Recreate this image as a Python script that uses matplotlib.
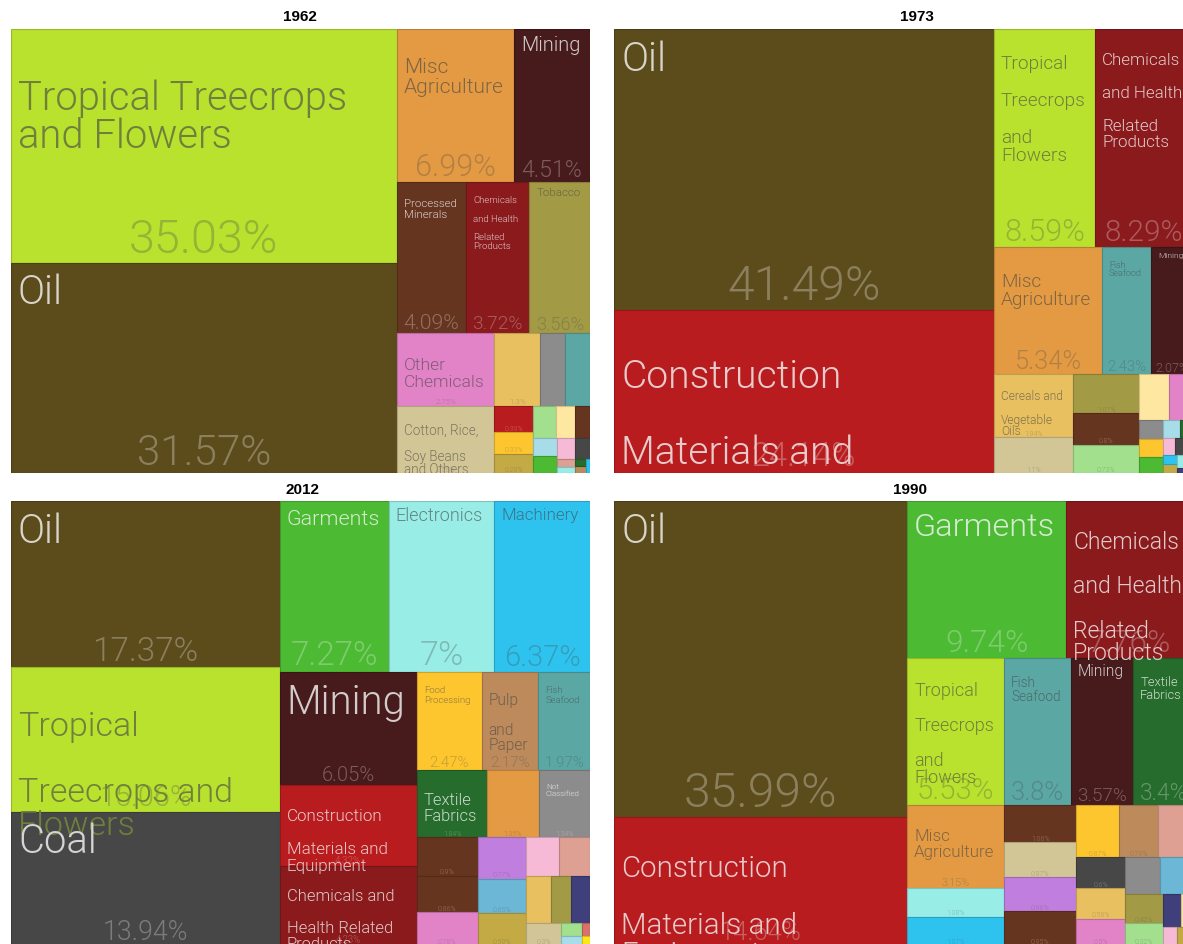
import matplotlib
matplotlib.use("Agg")
import matplotlib.pyplot as plt
import matplotlib.colors as mcolors
from matplotlib.patches import Rectangle
from matplotlib.font_manager import FontProperties, fontManager

# a light sans if one is installed, else Liberation Sans (Helvetica metrics)
FONT, WEIGHT = "Liberation Sans", "normal"
for fam in ["Roboto", "Lato", "Open Sans", "Inter"]:
    if any(f.name == fam and f.weight == 300 for f in fontManager.ttflist):
        FONT, WEIGHT = fam, 300
        break

# colours of the product communities
colors = {
    "Tropical Treecrops and Flowers": "#b8e22e",
    "Oil": "#5c4b1b",
    "Misc Agriculture": "#e39a43",
    "Mining": "#471a1c",
    "Processed Minerals": "#663520",
    "Petrochemicals": "#663520",
    "Chemicals and Health Related Products": "#8b1a1d",
    "Tobacco": "#a39a45",
    "Other Chemicals": "#e383c7",
    "Cotton, Rice, Soy Beans and Others": "#d3c696",
    "Cereals and Vegetable Oils": "#e8c060",
    "Not Classified": "#8c8c8c",
    "Fish Seafood": "#5ba7a4",
    "Construction Materials and Equipment": "#b81c1e",
    "Food Processing": "#fec62e",
    "Animal Fibers": "#c4aa45",
    "Animal Agriculture": "#a2e08e",
    "Milk and Cheese": "#fee8a1",
    "Home and Office": "#a7dce9",
    "Garments": "#4cba33",
    "Leather": "#f6bad6",
    "Meat and Eggs": "#dda093",
    "Coal": "#474747",
    "Electronics": "#98ede6",
    "Textile Fabrics": "#266c2c",
    "Ships": "#3e3f7b",
    "Pulp and Paper": "#bd8a5c",
    "Machinery": "#2ec3ef",
    "Boilers": "#c07fdf",
    "Aircraft": "#6cb6d6",
    "Inorganic Salts and Acids": "#d9726b",
    "Agrochemicals": "#fce81a",
}

names_1962 = ["Tropical Treecrops and Flowers", "Oil", "Misc Agriculture", "Mining",
              "Processed Minerals", "Chemicals and Health Related Products", "Tobacco",
              "Other Chemicals", "Cotton, Rice, Soy Beans and Others", "Cereals and Vegetable Oils",
              "Not Classified", "Fish Seafood", "Construction Materials and Equipment",
              "Food Processing", "Animal Fibers", "Animal Agriculture", "Milk and Cheese",
              "Petrochemicals", "Home and Office", "Garments", "Leather", "Coal", "Meat and Eggs",
              "Electronics", "Pulp and Paper", "Textile Fabrics", "Machinery"]
values_1962 = [35.03, 31.57, 6.99, 4.51, 4.09, 3.72, 3.56, 2.75, 2.56, 1.3,
               0.71, 0.7, 0.39, 0.33, 0.29, 0.28, 0.24, 0.18, 0.17, 0.16,
               0.15, 0.12, 0.06, 0.04, 0.03, 0.03, 0.02]

names_1973 = ["Oil", "Construction Materials and Equipment", "Tropical Treecrops and Flowers",
              "Chemicals and Health Related Products", "Misc Agriculture", "Fish Seafood", "Mining",
              "Cereals and Vegetable Oils", "Cotton, Rice, Soy Beans and Others", "Tobacco",
              "Processed Minerals", "Animal Agriculture", "Milk and Cheese", "Other Chemicals",
              "Not Classified", "Food Processing", "Garments", "Home and Office", "Textile Fabrics",
              "Leather", "Meat and Eggs", "Coal", "Animal Fibers", "Machinery", "Petrochemicals",
              "Electronics", "Ships"]
values_1973 = [41.49, 24.14, 8.59, 8.29, 5.34, 2.43, 2.07, 1.94, 1.1, 1.01,
               0.8, 0.73, 0.54, 0.43, 0.17, 0.16, 0.15, 0.12, 0.09, 0.08,
               0.06, 0.06, 0.05, 0.05, 0.04, 0.04, 0.03]

names_2012 = ["Oil", "Tropical Treecrops and Flowers", "Coal", "Garments", "Electronics", "Machinery",
              "Mining", "Construction Materials and Equipment", "Chemicals and Health Related Products",
              "Food Processing", "Pulp and Paper", "Fish Seafood", "Textile Fabrics", "Misc Agriculture",
              "Not Classified", "Processed Minerals", "Petrochemicals", "Other Chemicals", "Boilers",
              "Aircraft", "Animal Fibers", "Leather", "Meat and Eggs", "Cereals and Vegetable Oils",
              "Tobacco", "Ships", "Cotton, Rice, Soy Beans and Others", "Animal Agriculture",
              "Home and Office", "Inorganic Salts and Acids", "Agrochemicals"]
values_2012 = [17.37, 15.06, 13.94, 7.27, 7.0, 6.37, 6.05, 4.32, 4.23, 2.47,
               2.17, 1.97, 1.84, 1.35, 1.34, 0.9, 0.86, 0.78, 0.77, 0.65,
               0.59, 0.5, 0.47, 0.46, 0.37, 0.35, 0.3, 0.1, 0.07, 0.04, 0.03]

names_1990 = ["Oil", "Construction Materials and Equipment", "Garments",
              "Chemicals and Health Related Products", "Tropical Treecrops and Flowers", "Fish Seafood",
              "Mining", "Textile Fabrics", "Misc Agriculture", "Electronics", "Machinery",
              "Processed Minerals", "Cotton, Rice, Soy Beans and Others", "Boilers", "Petrochemicals",
              "Food Processing", "Pulp and Paper", "Meat and Eggs", "Coal", "Cereals and Vegetable Oils",
              "Not Classified", "Other Chemicals", "Aircraft", "Tobacco", "Animal Agriculture", "Ships",
              "Milk and Cheese", "Leather", "Animal Fibers", "Agrochemicals"]
values_1990 = [35.99, 14.64, 9.74, 7.76, 5.53, 3.8, 3.57, 3.4, 3.15, 1.08,
               1.07, 1.06, 0.97, 0.96, 0.95, 0.87, 0.79, 0.71, 0.6, 0.58,
               0.5, 0.5, 0.48, 0.42, 0.32, 0.24, 0.15, 0.1, 0.06, 0.05]

W, H = 1183, 945
TREE_W, TREE_H = 579, 444
RATIO = 0.5 * (1 + 5 ** 0.5)

# year, names, values, left, top, visible width, visible height, title x, title y (pixels)
panels = [
    ("1962", names_1962, values_1962, 11, 30, 579, 444, 300, 17),
    ("1973", names_1973, values_1973, 614, 30, 569, 444, 917, 17),
    ("2012", names_2012, values_2012, 11, 502, 579, 443, 302, 490),
    ("1990", names_1990, values_1990, 614, 502, 569, 443, 910, 490),
]


def worst(areas, u):
    s = sum(areas)
    if s <= 0 or u <= 0:
        return float("inf")
    s2, u2 = s * s, u * u
    return max(u2 * max(areas) * RATIO / s2, s2 / (u2 * min(areas) * RATIO))


def place_row(row, u, rect, out, flush):
    x, y, w, h = rect
    area = sum(a for _, a in row)
    v = area / u if u else 0
    if u == w:
        if flush or v > h:
            v = h
        cx = x
        for i, a in row:
            dx = min(x + w - cx, a / v if v else 0)
            out[i] = [cx, y, dx, v]
            cx += dx
        out[row[-1][0]][2] += x + w - cx
        rect[1] += v
        rect[3] -= v
    else:
        if flush or v > w:
            v = w
        cy = y
        for i, a in row:
            dy = min(y + h - cy, a / v if v else 0)
            out[i] = [x, cy, v, dy]
            cy += dy
        out[row[-1][0]][3] += y + h - cy
        rect[0] += v
        rect[2] -= v


def treemap(values, w, h):
    # squarified layout, largest first
    total = float(sum(values))
    order = sorted(range(len(values)), key=lambda i: values[i])
    remaining = [(i, values[i] * w * h / total) for i in order]
    rect = [0.0, 0.0, float(w), float(h)]
    out = {}
    row = []
    best = float("inf")
    u = min(w, h)
    while remaining:
        row.append(remaining[-1])
        score = worst([a for _, a in row], u)
        if score <= best:
            remaining.pop()
            best = score
        else:
            row.pop()
            place_row(row, u, rect, out, False)
            u = min(rect[2], rect[3])
            row = []
            best = float("inf")
    if row:
        place_row(row, u, rect, out, True)
    return [out[i] for i in range(len(values))]


fig = plt.figure(figsize=(W / 100, H / 100), dpi=100)
renderer = fig.canvas.get_renderer()
_cache = {}


def text_w(s, px):
    key = (s, round(px, 2))
    if key not in _cache:
        fp = FontProperties(family=FONT, weight=WEIGHT, size=px * 0.72)
        _cache[key] = renderer.get_text_width_height_descent(s, fp, ismath=False)[0]
    return _cache[key]


def fit_name(name, w, h):
    if w < 40 or h < 45:
        return None
    words = name.split()
    aw, ah = w - 16, h - 16
    px = 40.0
    while px >= 8:
        lines, cur = [], ""
        for wd in words:
            trial = (cur + " " + wd) if cur else wd
            if cur and text_w(trial, px) > aw:
                lines.append(cur)
                cur = wd
            else:
                cur = trial
        lines.append(cur)
        if (max(text_w(l, px) for l in lines) <= aw and len(lines) <= 4
                and len(lines) * 1.25 * px <= ah):
            return px, lines
        px -= 0.5
    return None


def line_steps(n):
    if n == 1:
        return [1]
    return [2 * (k + 1) for k in range(n - 1)] + [2 * (n - 1) + 1]


def tone(c):
    r, g, b = mcolors.to_rgb(c)
    yiq = (r * 299 + g * 587 + b * 114) / 1000 * 255
    return "#444444" if yiq >= 141.5 else "#f7f7f7"


def mix(c1, c2, a):
    r1, r2 = mcolors.to_rgb(c1), mcolors.to_rgb(c2)
    return tuple(x * (1 - a) + y * a for x, y in zip(r1, r2))


def pct_text(v):
    return ("%.2f" % v).rstrip("0").rstrip(".") + "%"


for year, names, vals, left, top, vw, vh, tx, ty in panels:
    ax = fig.add_axes([left / W, 1 - (top + vh) / H, vw / W, vh / H])
    ax.set_xlim(0, vw)
    ax.set_ylim(vh, 0)
    ax.axis("off")
    rects = treemap(vals, TREE_W, TREE_H)
    for name, v, (x, y, w, h) in zip(names, vals, rects):
        fc = colors[name]
        ax.add_patch(Rectangle((x, y), w, h, facecolor=fc, edgecolor=mix(fc, "black", 0.18),
                               linewidth=0.8))
        tc = tone(fc)
        dark = tc == "#444444"

        # percentage at the bottom
        if w >= 35 and h >= 14:
            f = min(0.2, max(0.1, 0.1 + (h - 67) * 0.0017))
            px = min(48, max(7, f * h))
            label = pct_text(v)
            tw = text_w(label, px)
            if tw > 0.8 * w:
                px *= 0.8 * w / tw
            if px >= 5.5:
                t = ax.text(x + w / 2, y + h - 0.2 * px - 1, label, ha="center", va="baseline",
                            fontsize=px * 0.72, family=FONT, fontweight=WEIGHT,
                            color=mix(fc, tc, 0.3), clip_on=True, zorder=3)
                t.set_clip_path(ax.patch)

        # name at the top left
        fit = fit_name(name, w, h)
        if fit:
            px, lines = fit
            for line, step in zip(lines, line_steps(len(lines))):
                t = ax.text(x + 7, y + 2 + 0.97 * px * step, line, ha="left", va="baseline",
                            fontsize=px * 0.72, family=FONT, fontweight=WEIGHT,
                            color=mix(fc, tc, 0.62 if dark else 0.8), clip_on=True, zorder=4)
                t.set_clip_path(ax.patch)

    fig.text(tx / W, 1 - ty / H, year, ha="center", va="center", fontsize=11,
             fontweight="bold", family="Liberation Sans", color="black")

fig.savefig("out.png", dpi=100, facecolor="white")
